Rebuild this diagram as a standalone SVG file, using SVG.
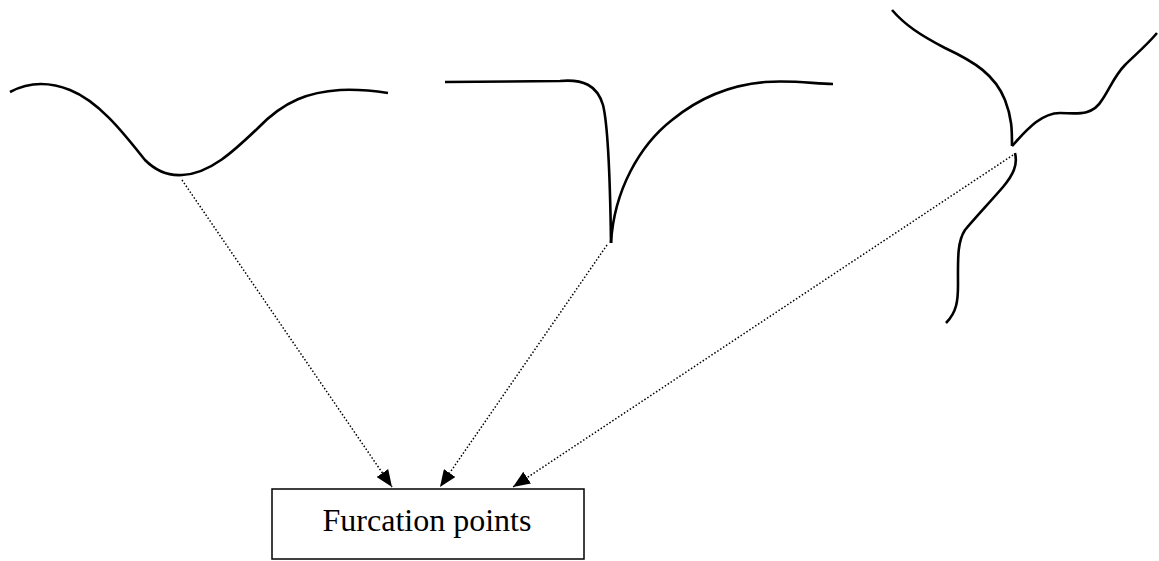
<svg xmlns="http://www.w3.org/2000/svg" width="1159" height="561" viewBox="0 0 1159 561">
<style>
.curve{fill:none;stroke:#000;stroke-width:2.6;stroke-linecap:butt;stroke-linejoin:round}
.conn{fill:none;stroke:#000;stroke-width:1.5;stroke-dasharray:1.5 2}
.box{fill:#fff;stroke:#000;stroke-width:1.5}
.lbl{font-family:"Liberation Serif","Times New Roman",serif;font-size:32px;fill:#000}
</style>
<defs>
<marker id="ah" markerUnits="userSpaceOnUse" markerWidth="18" markerHeight="14" viewBox="0 0 18 14" refX="17" refY="7" orient="auto">
<path d="M0,0 L17,7 L0,14 Z" fill="#000"/>
</marker>
</defs>
<g id="curve-left">
<path class="curve" d="M10,92 C25,84 45,80 70,90 C100,102 125,135 145,160 C155,170 168,176 182,175 C210,174 235,150 258,128 C285,100 310,92 340,90 C360,89 375,91 388,93"/>
</g>
<g id="curve-middle">
<path class="curve" d="M445,82 L560,81 C583,79 597,85 603,105 C608,125 610,170 611,243"/>
<path class="curve" d="M611,243 C614,190 640,145 672,120 C700,97 730,85 765,82 C795,80 815,84 833,84"/>
</g>
<g id="curve-right">
<path class="curve" d="M892,10 C905,25 920,35 945,48 C975,62 995,75 1005,100 C1012,118 1012,130 1012,146"/>
<path class="curve" d="M1012,146 C1025,132 1040,113 1060,113 C1075,113 1092,117 1102,100 C1110,88 1115,75 1125,65 C1135,55 1147,45 1157,33"/>
<path class="curve" d="M1015,153 C1018,165 1013,175 1003,187 C990,202 975,218 965,230 C957,242 958,260 958,285 C958,300 957,312 946,323"/>
</g>
<g id="furcation-points">
<rect class="box" x="272" y="489" width="312" height="70"/>
<text class="lbl" x="427" y="531" text-anchor="middle">Furcation points</text>
</g>
<g id="connectors">
<line class="conn" x1="182" y1="180" x2="392" y2="487" marker-end="url(#ah)"/>
<line class="conn" x1="607" y1="245" x2="440" y2="487" marker-end="url(#ah)"/>
<line class="conn" x1="1013" y1="155" x2="513" y2="487" marker-end="url(#ah)"/>
</g>
</svg>
